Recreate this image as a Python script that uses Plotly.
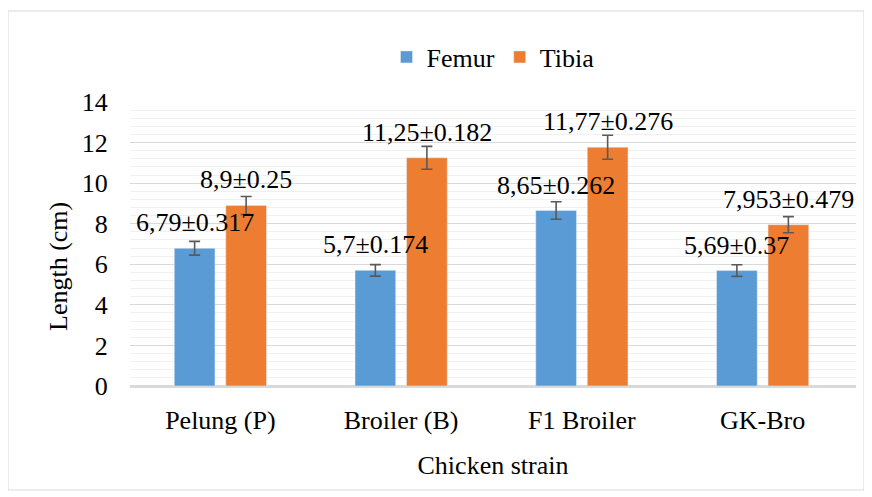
import plotly.graph_objects as go

categories = ["Pelung (P)", "Broiler (B)", "F1 Broiler", "GK-Bro"]
femur = [6.79, 5.70, 8.65, 5.69]
tibia = [8.90, 11.25, 11.77, 7.953]
femur_labels = ["6,79±0.317", "5,7±0.174", "8,65±0.262", "5,69±0.37"]
tibia_labels = ["8,9±0.25", "11,25±0.182", "11,77±0.276", "7,953±0.479"]

FONT = "Times New Roman"
FS = 26
OFF = 8  # page body margin
W, H = 872 - OFF, 497 - OFF
L, R, T, B = 130 - OFF, 16, 102 - OFF, 111
pw, ph = W - L - R, H - T - B

err = dict(type="percent", value=5, color="#595959", thickness=1.6, width=5.5)

fig = go.Figure()
fig.add_trace(go.Bar(name="Femur", x=categories, y=femur, marker_color="#5B9BD5",
                     error_y=err))
fig.add_trace(go.Bar(name="Tibia", x=categories, y=tibia, marker_color="#ED7D31",
                     error_y=err))

slot = pw / 4 * (1 - 0.43) / 2
for cat, v, t in zip(categories, femur, femur_labels):
    fig.add_annotation(x=cat, y=v, text=t, showarrow=False, xshift=-slot / 2,
                       yanchor="bottom", yshift=9, font=dict(family=FONT, size=FS, color="#000"))
for cat, v, t in zip(categories, tibia, tibia_labels):
    fig.add_annotation(x=cat, y=v, text=t, showarrow=False, xshift=slot / 2,
                       yanchor="bottom", yshift=9, font=dict(family=FONT, size=FS, color="#000"))

# y-axis title placed as in the reference
fig.add_annotation(xref="paper", yref="paper",
                   x=(58 - OFF - L) / pw, y=(H - B - (267 - OFF)) / ph,
                   text="Length (cm)", textangle=-90, showarrow=False,
                   xanchor="center", yanchor="middle",
                   font=dict(family=FONT, size=FS, color="#000"))

fig.add_shape(type="rect", xref="paper", yref="paper",
              x0=(8 - OFF - L) / pw, x1=(864 - OFF - L) / pw,
              y0=(H - B - (490 - OFF)) / ph, y1=(H - B - (11 - OFF)) / ph,
              line=dict(color="#D9D9D9", width=1), layer="below")

fig.update_layout(
    width=W, height=H,
    margin=dict(l=L, r=R, t=T, b=B),
    paper_bgcolor="white", plot_bgcolor="white",
    font=dict(family=FONT, size=FS, color="#000"),
    barmode="group", bargap=0.43, bargroupgap=0.21,
    showlegend=True,
    legend=dict(orientation="h", x=0.5, xanchor="center", y=1 + 45 / ph, yanchor="middle",
                font=dict(family=FONT, size=FS), itemwidth=30, tracegroupgap=0),
    xaxis=dict(showgrid=False, showline=True, linecolor="#D9D9D9", linewidth=1.5,
               ticks="outside", ticklen=10, tickcolor="rgba(0,0,0,0)",
               tickfont=dict(family=FONT, size=FS),
               title=dict(text="Chicken strain", standoff=22, font=dict(size=FS, family=FONT))),
    yaxis=dict(range=[0, 14], dtick=2, showgrid=True, gridcolor="#D9D9D9", gridwidth=1.2,
               minor=dict(dtick=0.4, showgrid=True, gridcolor="#F0F0F0", gridwidth=1.2),
               zeroline=True, zerolinecolor="#D9D9D9", zerolinewidth=1.5,
               ticks="outside", ticklen=16, tickcolor="rgba(0,0,0,0)",
               tickfont=dict(family=FONT, size=FS)),
)

fig.write_html("out.html")
